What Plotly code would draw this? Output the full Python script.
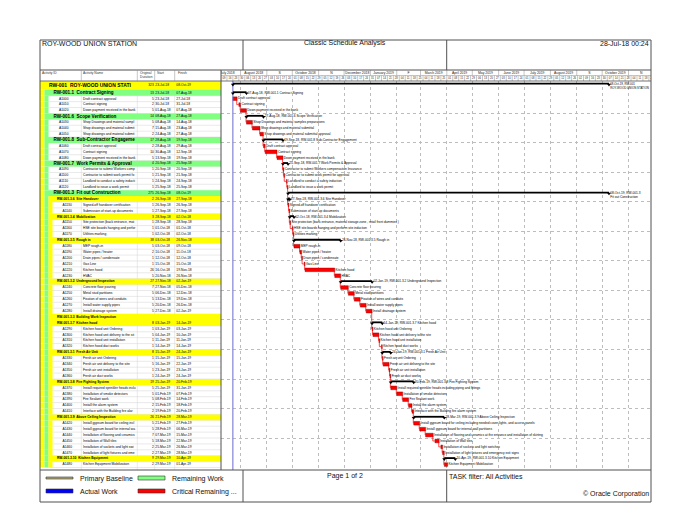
import plotly.graph_objects as go
from datetime import datetime, timedelta

# ---------------- chart data ----------------
row_ids = ["RW-001", "RW-001.1", "A1000", "A1010", "A1020", "RW-001.6", "A1030", "A1040", "A1050",
           "RW-001.8", "A1060", "A1070", "A1080", "RW-001.7", "A1090", "A1100", "A1110", "A1120",
           "RW-001.3", "RW-001.3.6", "A1130", "A1140", "RW-001.3.4", "A1150", "A1160", "A1170",
           "RW-001.3.5", "A1180", "A1190", "A1200", "A1210", "A1220", "A1230",
           "RW-001.3.2", "A1240", "A1250", "A1260", "A1270", "A1280",
           "RW-001.3.3", "RW-001.3.7", "A1290", "A1300", "A1310", "A1320",
           "RW-001.3.1", "A1330", "A1340", "A1350", "A1360",
           "RW-001.3.8", "A1370", "A1380", "A1390", "A1400", "A1410",
           "RW-001.3.9", "A1420", "A1430", "A1440", "A1450", "A1460", "A1470",
           "RW-001.3.10", "A1480"]

row_names = ["ROY-WOOD UNION STATION", "Contract Signing", "Draft contract approval", "Contract signing",
             "Down payment received in the bank", "Scope Verification",
             "Shop Drawings and material samples preparations", "Shop drawings and material submittal",
             "Shop drawings and material submittal approval", "Sub-Contractor Engagement",
             "Draft contract approval", "Contract signing", "Down payment received in the bank",
             "Work Permits & Approval", "Contractor to submit Workers compensation Insurance",
             "Contractor to submit work permit for approval", "Landlord to conduct a safety induction",
             "Landlord to issue a work permit", "Fit out Construction", "Site Handover",
             "Signed-off handover certification", "Submission of start-up documents", "Mobilization",
             "Site protection (back entrance, material storage zone , retail front dummies )",
             "HSE site boards hanging and perform site induction", "Utilities marking", "Rough in",
             "MEP rough-in", "Water pipes / heater", "Drain pipes / condensate", "Gas Line", "Kitchen hood",
             "HVAC", "Underground Inspection", "Concrete floor pouring", "Metal stud partitions",
             "Fixation of wires and conduits", "Install water supply pipes", "Install drainage system",
             "Building Work Inspection", "Kitchen hood", "Kitchen hood unit Ordering",
             "Kitchen hood unit delivery to the site", "Kitchen hood unit installation",
             "Kitchen hood duct works", "Fresh Air Unit", "Fresh air unit Ordering",
             "Fresh air unit delivery to the site", "Fresh air unit installation", "Fresh air duct works",
             "Fire Fighting System", "Install required sprinkler heads including piping and fittings",
             "Installation of smoke detectors", "Fire Sealant work", "Install the alarm system",
             "Interface with the Building fire alarm system", "Above Ceiling Inspection",
             "Install gypsum board for ceiling including needed cover lights, and access panels",
             "Install gypsum board for internal wall partitions",
             "Installation of flooring and ceramics at the entrance and installation of skirting",
             "Installation of Wall tiles", "Installation of sockets and light switches",
             "Installation of light fixtures and emergency exit signs", "Kitchen Equipment",
             "Kitchen Equipment Mobilization"]

row_durations = [323, 13, 5, 2, 5, 14, 5, 7, 2, 17, 2, 10, 5, 4, 1, 1, 1, 1, 275, 2, 1, 1, 3, 1, 1, 1,
                 38, 5, 2, 1, 1, 26, 5, 27, 7, 5, 5, 5, 5, None, 8, 1, 5, 1, 1, 8, 1, 5, 1, 1,
                 19, 5, 5, 5, 2, 2, 26, 5, 5, 7, 5, 2, 2, 9, 2]

row_starts = ["23-Jul-18", "23-Jul-18", "23-Jul-18", "30-Jul-18", "01-Aug-18", "08-Aug-18", "08-Aug-18",
              "15-Aug-18", "24-Aug-18", "28-Aug-18", "28-Aug-18", "30-Aug-18", "13-Sep-18", "20-Sep-18",
              "20-Sep-18", "21-Sep-18", "24-Sep-18", "25-Sep-18", "26-Sep-18", "26-Sep-18", "26-Sep-18",
              "27-Sep-18", "28-Sep-18", "28-Sep-18", "01-Oct-18", "02-Oct-18", "03-Oct-18", "03-Oct-18",
              "10-Oct-18", "12-Oct-18", "15-Oct-18", "16-Oct-18", "20-Nov-18", "27-Nov-18", "27-Nov-18",
              "06-Dec-18", "13-Dec-18", "20-Dec-18", "27-Dec-18", "", "03-Jan-19", "03-Jan-19",
              "04-Jan-19", "11-Jan-19", "14-Jan-19", "15-Jan-19", "15-Jan-19", "16-Jan-19", "23-Jan-19",
              "24-Jan-19", "25-Jan-19", "25-Jan-19", "01-Feb-19", "08-Feb-19", "15-Feb-19", "19-Feb-19",
              "21-Feb-19", "21-Feb-19", "28-Feb-19", "07-Mar-19", "18-Mar-19", "25-Mar-19", "27-Mar-19",
              "29-Mar-19", "29-Mar-19"]

row_finishes = ["08-Oct-19", "07-Aug-18", "27-Jul-18", "31-Jul-18", "07-Aug-18", "27-Aug-18", "14-Aug-18",
                "23-Aug-18", "27-Aug-18", "19-Sep-18", "29-Aug-18", "12-Sep-18", "19-Sep-18", "25-Sep-18",
                "20-Sep-18", "21-Sep-18", "24-Sep-18", "25-Sep-18", "08-Oct-19", "27-Sep-18", "26-Sep-18",
                "27-Sep-18", "02-Oct-18", "28-Sep-18", "01-Oct-18", "02-Oct-18", "26-Nov-18", "09-Oct-18",
                "11-Oct-18", "12-Oct-18", "15-Oct-18", "19-Nov-18", "26-Nov-18", "02-Jan-19", "05-Dec-18",
                "12-Dec-18", "19-Dec-18", "26-Dec-18", "02-Jan-19", "", "14-Jan-19", "03-Jan-19",
                "10-Jan-19", "11-Jan-19", "14-Jan-19", "24-Jan-19", "15-Jan-19", "22-Jan-19", "23-Jan-19",
                "24-Jan-19", "20-Feb-19", "31-Jan-19", "07-Feb-19", "14-Feb-19", "18-Feb-19", "20-Feb-19",
                "28-Mar-19", "27-Feb-19", "06-Mar-19", "15-Mar-19", "22-Mar-19", "26-Mar-19", "28-Mar-19",
                "10-Apr-19", "01-Apr-19"]

data_date = "23-Jul-18"

month_labels = ["July 2018", "August 2018", "S", "October 2018", "N", "December 2018", "January 2019", "F",
                "March 2019", "April 2019", "May 2019", "June 2019", "July 2019", "August 2019", "S",
                "October 2019", "N"]
first_month = (2018, 7)

legend_labels = ["Primary Baseline", "Remaining Work", "Actual Work", "Critical Remaining ..."]
legend_colors = ["#B4AA6E", "#80FF80", "#0000FF", "#FF0000"]

# ---------------- helpers ----------------
W, H = 680, 525
N = len(row_ids)
YELLOW, GREEN = "#FFFF00", "#80FF80"
FONT = "Liberation Sans, Arial, sans-serif"
GANTT_L, GANTT_R = 213, 643


def d(s):
    return datetime.strptime(s, "%d-%b-%y")


def fx(px):
    return px / W


def fy(py):
    return 1 - py / H


def kind(rid):
    if rid.startswith("A"):
        return "A"
    return "L%d" % rid.count(".")


def char_w(c):
    if c in "il.,:;'|!":
        return 0.23
    if c == " ":
        return 0.28
    if c in "fjt-()/rI[]":
        return 0.32
    if c in "mwMW":
        return 0.86
    if c.isupper():
        return 0.70
    if c.isdigit():
        return 0.556
    return 0.54


def text_em(t):
    return sum(char_w(c) for c in t)


def truncate(text, size, max_px, bold=False):
    f = 1.06 if bold else 1.0
    out, w = "", 0.0
    for c in text:
        w += char_w(c) * size * f
        if w > max_px:
            break
        out += c
    return out


kinds = [kind(r) for r in row_ids]
parent = []
last = "L0"
for k in kinds:
    if k != "A":
        last = k
    parent.append(last)

row_y = [0.75] + [i + 1 for i in range(1, N)]
row_h = [1.5] + [1.0] * (N - 1)
Y_RANGE = [65.92, 0]
X_RANGE = [datetime(2018, 7, 9), datetime(2019, 11, 27, 12)]
PX_PER_DAY = (GANTT_R - GANTT_L) / ((X_RANGE[1] - X_RANGE[0]).total_seconds() / 86400)


def date_px(t):
    return GANTT_L + (t - X_RANGE[0]).total_seconds() / 86400 * PX_PER_DAY


fig = go.Figure()

# ---------------- table backgrounds ----------------
seg_base, seg_w, seg_y, seg_h, seg_c = [], [], [], [], []


def seg(x0, x1, i, c):
    seg_base.append(x0)
    seg_w.append(x1 - x0)
    seg_y.append(row_y[i])
    seg_h.append(row_h[i])
    seg_c.append(c)


for i, k in enumerate(kinds):
    if k == "L0":
        seg(32, 213, i, YELLOW)
    elif k == "L1":
        seg(32, 36.5, i, YELLOW)
        seg(36.5, 213, i, GREEN)
    elif k == "L2":
        seg(32, 36.5, i, YELLOW)
        seg(36.5, 40.5, i, GREEN)
        seg(40.5, 213, i, YELLOW)
    else:
        seg(32, 36.5, i, YELLOW)
        seg(36.5, 40.5, i, GREEN)
        if parent[i] == "L2":
            seg(40.5, 44.5, i, YELLOW)

fig.add_trace(go.Bar(orientation="h", base=seg_base, x=seg_w, y=seg_y, width=seg_h,
                     marker=dict(color=seg_c, line=dict(width=0)), xaxis="x2", yaxis="y2",
                     hoverinfo="skip"))

# ---------------- table text ----------------
groups = {}


def put(key, x, y, t):
    g = groups.setdefault(key, ([], [], []))
    g[0].append(x)
    g[1].append(y)
    g[2].append(t)


SMALL = 3.3
for i, k in enumerate(kinds):
    y = row_y[i]
    rid, nm = row_ids[i], row_names[i]
    if k == "L0":
        put((5.0, "bold", "middle right"), 41, y, truncate(rid + "  " + nm, 5.0, 87, True))
    elif k == "L1":
        put((4.6, "bold", "middle right"), 45.5, y, truncate(rid + "  " + nm, 4.6, 83, True))
    elif k == "L2":
        put((SMALL, "bold", "middle right"), 49, y, truncate(rid + "  " + nm, SMALL, 79, True))
    else:
        put((SMALL, "normal", "middle right"), 51 if parent[i] == "L1" else 54.5, y, rid)
        put((SMALL, "normal", "middle right"), 75, y, truncate(nm, SMALL, 53))
    if row_durations[i] is not None:
        put((SMALL, "normal", "middle left"), 145.8, y, str(row_durations[i]))
    if row_starts[i]:
        put((SMALL, "normal", "middle right"), 147.3, y, row_starts[i])
        put((SMALL, "normal", "middle right"), 168.3, y, row_finishes[i])

for (size, weight, pos), (xs, ys, ts) in groups.items():
    fig.add_trace(go.Scatter(x=xs, y=ys, text=ts, mode="text", textposition=pos,
                             textfont=dict(size=size, weight=weight, family=FONT, color="#000000"),
                             xaxis="x2", yaxis="y2", hoverinfo="skip"))

# ---------------- gantt ----------------
dd = d(data_date)
fig.add_trace(go.Scatter(x=[dd, dd], y=[0, 65.92], mode="lines",
                         line=dict(color="#6A6ACD", width=1), hoverinfo="skip"))

acts = [i for i in range(N) if kinds[i] == "A"]
rel_x, rel_y = [], []
for a, b in zip(acts[:-1], acts[1:]):
    xa = d(row_finishes[a]) + timedelta(hours=12)
    rel_x += [xa, xa, d(row_starts[b]), None]
    rel_y += [row_y[a] + 0.2, row_y[b], row_y[b], None]
fig.add_trace(go.Scatter(x=rel_x, y=rel_y, mode="lines", line=dict(color="#FF0000", width=0.7),
                         hoverinfo="skip"))

bar_base, bar_len, bar_y = [], [], []
for i in acts:
    s = d(row_starts[i])
    e = d(row_finishes[i]) + timedelta(days=1)
    bar_base.append(s)
    bar_len.append((e - s).total_seconds() * 1000)
    bar_y.append(row_y[i])
fig.add_trace(go.Bar(orientation="h", base=bar_base, x=bar_len, y=bar_y, width=0.62,
                     marker=dict(color="#FF0000", line=dict(color="#700000", width=0.4)),
                     hoverinfo="skip"))

LAB = 3.2
sum_x, sum_y, tri_x, tri_y = [], [], [], []
lab_x, lab_y, lab_t = [], [], []
wrap_x, wrap_y, wrap_t, wrap_s = [], [], [], []
for i, k in enumerate(kinds):
    if not row_starts[i]:
        continue
    s = d(row_starts[i])
    e = d(row_finishes[i]) + timedelta(days=1)
    if k == "A":
        lab_x.append(e + timedelta(days=1.0))
        lab_y.append(row_y[i])
        lab_t.append(row_names[i])
    else:
        yl = row_y[i] - (0.3 if k == "L0" else 0.1)
        sum_x += [s, e, None]
        sum_y += [yl, yl, None]
        tri_x += [s, e]
        tri_y += [yl + 0.18, yl + 0.18]
        lx = e + timedelta(days=1.5)
        full = "%s, %s %s" % (row_finishes[i], row_ids[i], row_names[i])
        avail = GANTT_R - 2 - date_px(lx)
        if text_em(full) * LAB <= avail:
            lab_x.append(lx)
            lab_y.append(yl + 0.1)
            lab_t.append(full)
        else:
            l1 = "%s, %s" % (row_finishes[i], row_ids[i])
            l2 = row_names[i]
            size = min(LAB, avail / max(text_em(l1), text_em(l2)))
            wrap_x.append(lx)
            wrap_y.append(yl + 0.45)
            wrap_t.append(l1 + "<br>" + l2)
            wrap_s.append(size)

fig.add_trace(go.Scatter(x=sum_x, y=sum_y, mode="lines", line=dict(color="#000000", width=1.8),
                         hoverinfo="skip"))
fig.add_trace(go.Scatter(x=tri_x, y=tri_y, mode="markers",
                         marker=dict(symbol="triangle-down", size=3.5, color="#000000"),
                         hoverinfo="skip"))
fig.add_trace(go.Scatter(x=lab_x, y=lab_y, text=lab_t, mode="text", textposition="middle right",
                         textfont=dict(size=LAB, family=FONT, color="#000000"), hoverinfo="skip"))
if wrap_x:
    fig.add_trace(go.Scatter(x=wrap_x, y=wrap_y, text=wrap_t, mode="text", textposition="middle right",
                             textfont=dict(size=wrap_s, family=FONT, color="#000000"),
                             hoverinfo="skip"))

# ---------------- gantt header (months / weeks) ----------------
months = []
yv, mv = first_month
for _ in range(len(month_labels) + 1):
    months.append(datetime(yv, mv, 1))
    mv += 1
    if mv > 12:
        mv, yv = 1, yv + 1
m_x = [months[j] + (months[j + 1] - months[j]) / 2 for j in range(len(month_labels))]
fig.add_trace(go.Scatter(x=m_x, y=[1.5] * len(m_x), text=month_labels, mode="text",
                         textposition="middle center",
                         textfont=dict(size=3.4, family=FONT, color="#222222"),
                         xaxis="x3", yaxis="y3", hoverinfo="skip"))
weeks = []
w = X_RANGE[0]
while w < X_RANGE[1]:
    weeks.append(w)
    w += timedelta(days=7)
fig.add_trace(go.Scatter(x=[w + timedelta(days=3.5) for w in weeks], y=[0.5] * len(weeks),
                         text=["%02d" % w.day for w in weeks], mode="text", textposition="middle center",
                         textfont=dict(size=2.6, family=FONT, color="#222222"),
                         xaxis="x3", yaxis="y3", hoverinfo="skip"))
hx, hy = [], []
for m in months:
    hx += [m, m, None]
    hy += [1, 2, None]
for w in weeks:
    hx += [w, w, None]
    hy += [0, 1, None]
hx += [X_RANGE[0], X_RANGE[1], None]
hy += [1, 1, None]
fig.add_trace(go.Scatter(x=hx, y=hy, mode="lines", line=dict(color="#8C8C8C", width=0.5),
                         xaxis="x3", yaxis="y3", hoverinfo="skip"))

# ---------------- shapes ----------------
shapes = []
LINE = "#505050"


def pline(x0, y0, x1, y1, color=LINE, width=1):
    shapes.append(dict(type="line", xref="paper", yref="paper", x0=fx(x0), y0=fy(y0), x1=fx(x1),
                       y1=fy(y1), line=dict(color=color, width=width)))


# table body grid (below the coloured bands)
for b in [1.5 + k for k in range(N)]:
    shapes.append(dict(type="line", xref="x2", yref="y2", x0=40.5, x1=213, y0=b, y1=b, layer="below",
                       line=dict(color="#D2D2D2", width=0.5)))
for cx in [73.3, 129.3, 146.7, 166.7]:
    shapes.append(dict(type="line", xref="x2", yref="y2", x0=cx, x1=cx, y0=0, y1=65.92, layer="below",
                       line=dict(color="#D2D2D2", width=0.5)))

# frame
shapes.append(dict(type="rect", xref="paper", yref="paper", x0=fx(32), y0=fy(494), x1=fx(643), y1=fy(32),
                   line=dict(color=LINE, width=1)))
pline(32, 62, 643, 62)
pline(32, 73, 643, 73, width=0.8)
pline(32, 462, 643, 462)
pline(213, 62, 213, 462)
for vx in [235, 438.7]:
    pline(vx, 32, vx, 62)
    pline(vx, 462, vx, 494)
for cx in [73.3, 129.3, 146.7, 166.7]:
    pline(cx, 62, cx, 73, color="#8C8C8C", width=0.5)

# legend swatches
sw = [(38, 65, 470, 1.0), (130, 157, 470, 2.0), (38, 65, 483, 2.0), (130, 157, 483, 2.0)]
for (x0, x1, yc, hh), col in zip(sw, legend_colors):
    shapes.append(dict(type="rect", xref="paper", yref="paper", x0=fx(x0), x1=fx(x1), y0=fy(yc + hh),
                       y1=fy(yc - hh), fillcolor=col, line=dict(color="#333333", width=0.6)))

# ---------------- annotations ----------------
ann = []


def text(x, y, t, size=7, xanchor="left", color="#111111"):
    ann.append(dict(xref="paper", yref="paper", x=fx(x), y=fy(y), text=t, showarrow=False,
                    xanchor=xanchor, yanchor="middle", borderpad=0,
                    font=dict(size=size, family=FONT, color=color)))


text(32.5, 35.5, "ROY-WOOD UNION STATION")
text(337, 35.5, "Classic Schedule Analysis", xanchor="center")
text(642, 35.5, "28-Jul-18 00:24", xanchor="right")
text(337, 468.3, "Page 1 of 2", xanchor="center")
text(439.5, 468.3, "TASK filter: All Activities")
text(642, 486, "© Oracle Corporation", xanchor="right")
for (x0, x1, yc, hh), lab in zip(sw, legend_labels):
    text(x1 + 5.5, yc + 0.5, lab)

HS = 3.3
text(32.5, 64.8, "Activity ID", size=HS, color="#333333")
text(74.3, 64.8, "Activity Name", size=HS, color="#333333")
text(138, 64.8, "Original", size=HS, xanchor="center", color="#333333")
text(138, 69.0, "Duration", size=HS, xanchor="center", color="#333333")
text(147.5, 64.8, "Start", size=HS, color="#333333")
text(168.5, 64.8, "Finish", size=HS, color="#333333")

# ---------------- layout ----------------
GRID = "#BDBDBD"
fig.update_layout(
    width=W, height=H, margin=dict(l=0, r=0, t=0, b=0), autosize=False,
    paper_bgcolor="white", plot_bgcolor="white", showlegend=False, barmode="overlay",
    font=dict(family=FONT, color="#000000"),
    xaxis=dict(type="date", domain=[fx(GANTT_L), fx(GANTT_R)], range=X_RANGE, anchor="y", showgrid=True,
               gridcolor=GRID, griddash="dot", gridwidth=0.6, dtick="M1", tick0="2018-07-01",
               showticklabels=False, ticks="", zeroline=False, showline=False),
    yaxis=dict(domain=[fy(462), fy(73)], range=Y_RANGE, anchor="x", tickmode="array",
               tickvals=[5.5 + 5 * k for k in range(12)], showgrid=True, gridcolor=GRID, griddash="dot",
               gridwidth=0.6, showticklabels=False, ticks="", zeroline=False, showline=False),
    xaxis2=dict(domain=[fx(32), fx(213)], range=[32, 213], anchor="y2", visible=False),
    yaxis2=dict(domain=[fy(462), fy(73)], range=Y_RANGE, anchor="x2", visible=False),
    xaxis3=dict(type="date", matches="x", domain=[fx(GANTT_L), fx(GANTT_R)], anchor="y3", visible=False),
    yaxis3=dict(domain=[fy(73), fy(62)], range=[0, 2], anchor="x3", visible=False),
    shapes=shapes, annotations=ann,
)

fig.write_html("out.html")
